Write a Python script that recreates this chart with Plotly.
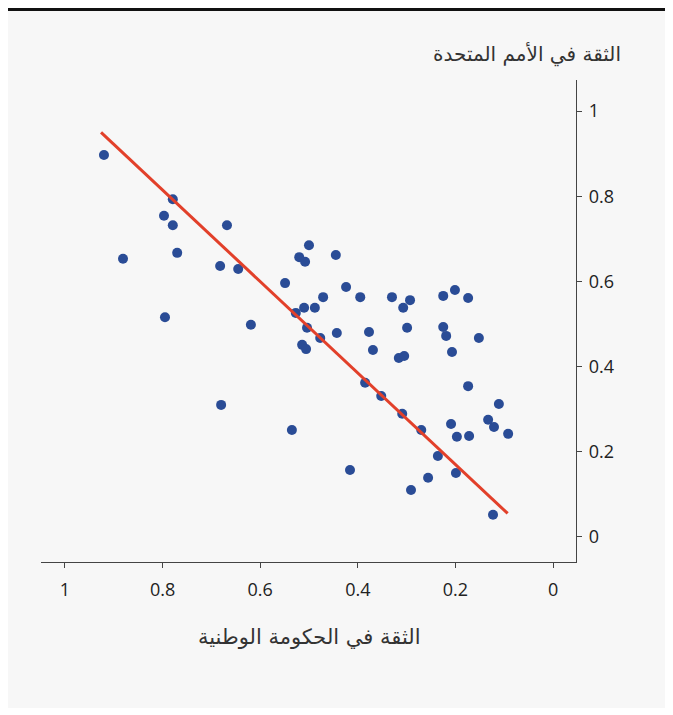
import plotly.graph_objects as go

# Trust in national government (x) vs trust in the United Nations (y)
gov_trust = [0.920, 0.881, 0.797, 0.779, 0.779, 0.770, 0.795, 0.682, 0.668, 0.645,
             0.680, 0.619, 0.549, 0.535, 0.527, 0.520, 0.508, 0.500, 0.510, 0.504,
             0.514, 0.506, 0.488, 0.477, 0.471, 0.443, 0.445, 0.424, 0.395, 0.416,
             0.385, 0.377, 0.369, 0.352, 0.330, 0.307, 0.293, 0.299, 0.316, 0.305,
             0.309, 0.291, 0.270, 0.256, 0.225, 0.225, 0.219, 0.201, 0.207, 0.174,
             0.152, 0.174, 0.236, 0.209, 0.197, 0.172, 0.199, 0.133, 0.111, 0.121,
             0.092, 0.123]
un_trust = [0.897, 0.653, 0.754, 0.793, 0.732, 0.667, 0.516, 0.636, 0.732, 0.629,
            0.310, 0.498, 0.596, 0.251, 0.526, 0.657, 0.646, 0.685, 0.538, 0.491,
            0.451, 0.441, 0.538, 0.467, 0.563, 0.479, 0.662, 0.587, 0.563, 0.157,
            0.362, 0.481, 0.439, 0.331, 0.563, 0.538, 0.556, 0.491, 0.420, 0.425,
            0.289, 0.110, 0.251, 0.139, 0.566, 0.493, 0.472, 0.580, 0.434, 0.561,
            0.467, 0.354, 0.190, 0.265, 0.235, 0.237, 0.150, 0.275, 0.312, 0.258,
            0.242, 0.052]

fit_x = [0.926, 0.093]
fit_y = [0.950, 0.055]

tick_vals = [0, 0.2, 0.4, 0.6, 0.8, 1]
tick_text = ["0", "0.2", "0.4", "0.6", "0.8", "1"]

x_title = "الثقة في الحكومة الوطنية"
y_title = "الثقة في الأمم المتحدة"

OFF = 8  # page body margin
W, H = 665, 700
L, R, T, B = 41 - OFF, (OFF + W) - 576, 80 - OFF, (OFF + H) - 562
pw, ph = W - L - R, H - T - B

def px(sx):
    return (sx - OFF - L) / pw

def py(sy):
    return (H - B - (sy - OFF)) / ph

fig = go.Figure()
fig.add_trace(go.Scatter(
    x=gov_trust, y=un_trust, mode="markers",
    marker=dict(color="#2a4c96", size=10, line=dict(width=0)),
    showlegend=False, hoverinfo="x+y"))
fig.add_trace(go.Scatter(
    x=fit_x, y=fit_y, mode="lines",
    line=dict(color="#e2402a", width=3),
    showlegend=False, hoverinfo="skip"))

axis_common = dict(
    showgrid=False, zeroline=False, showline=True, linecolor="#444444",
    linewidth=1.3, ticks="outside", ticklen=5, tickwidth=1, tickcolor="#444444",
    tickfont=dict(family="Open Sans, Noto Sans, sans-serif", size=18, color="#222222"),
    tickvals=tick_vals, ticktext=tick_text,
)

fig.update_layout(
    width=W, height=H,
    margin=dict(l=L, r=R, t=T, b=B, pad=0),
    paper_bgcolor="#f7f7f7",
    plot_bgcolor="rgba(0,0,0,0)",
    xaxis=dict(range=[1.049, -0.047], ticklabelstandoff=6, **axis_common),
    yaxis=dict(range=[-0.059, 1.073], side="right", ticklabelstandoff=3, **axis_common),
    shapes=[
        dict(type="rect", xref="paper", yref="paper", layer="below",
             x0=px(0), x1=px(690), y0=py(8), y1=py(11),
             fillcolor="#111111", line=dict(width=0)),
    ],
    annotations=[
        dict(text=y_title, xref="paper", yref="paper", x=px(623), y=py(55),
             xanchor="right", yanchor="middle", showarrow=False,
             font=dict(family="DejaVu Sans, sans-serif", size=20, color="#333333")),
        dict(text=x_title, xref="paper", yref="paper", x=px(309), y=py(637),
             xanchor="center", yanchor="middle", showarrow=False,
             font=dict(family="DejaVu Sans, sans-serif", size=21, color="#333333")),
    ],
)

fig.write_html("out.html")
